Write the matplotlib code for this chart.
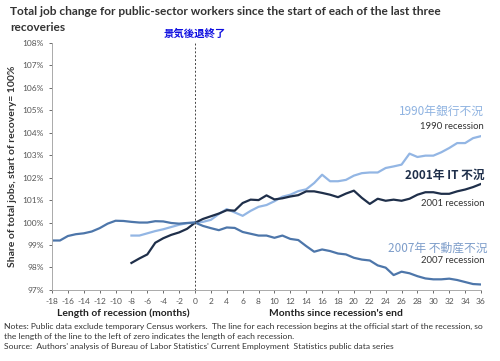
import matplotlib
matplotlib.use("Agg")
import matplotlib.pyplot as plt

plt.rcParams["font.family"] = ["Lato", "DejaVu Sans"]
plt.rcParams["axes.unicode_minus"] = False

# months relative to the end of each recession
months_2007 = list(range(-18, 37))
months_other = list(range(-8, 37))

jobs_2007 = [99.2, 99.2, 99.4, 99.48, 99.52, 99.6, 99.75, 99.95, 100.08, 100.07,
             100.03, 100.0, 100.0, 100.06, 100.05, 99.98, 99.95, 99.98, 100.0,
             99.85, 99.75, 99.66, 99.78, 99.76, 99.58, 99.5, 99.42, 99.42, 99.32,
             99.42, 99.27, 99.22, 98.95, 98.7, 98.8, 98.73, 98.62, 98.58, 98.43,
             98.35, 98.31, 98.09, 97.99, 97.66, 97.81, 97.74, 97.61, 97.51, 97.47,
             97.47, 97.5, 97.44, 97.35, 97.26, 97.24]
jobs_2001 = [98.2, 98.4, 98.58, 99.1, 99.3, 99.45, 99.56, 99.72, 99.99,
             100.16, 100.28, 100.4, 100.55, 100.53, 100.87, 101.02, 101.0, 101.21,
             101.03, 101.08, 101.16, 101.22, 101.39, 101.39, 101.32, 101.24, 101.13,
             101.29, 101.42, 101.1, 100.83, 101.06, 100.97, 101.02, 100.97, 101.06,
             101.24, 101.35, 101.35, 101.28, 101.28, 101.39, 101.47, 101.58, 101.72]
jobs_1990 = [99.42, 99.42, 99.52, 99.62, 99.7, 99.8, 99.9, 99.97, 100.0,
             100.03, 100.12, 100.38, 100.6, 100.45, 100.3, 100.52, 100.7, 100.78,
             100.95, 101.15, 101.24, 101.4, 101.48, 101.76, 102.13, 101.84, 101.84,
             101.9, 102.09, 102.2, 102.23, 102.23, 102.43, 102.5, 102.58, 103.07,
             102.92, 102.98, 102.98, 103.13, 103.32, 103.54, 103.54, 103.76, 103.85]

x_ticks = list(range(-18, 37, 2))
y_ticks = list(range(97, 109))

title_lines = ["Total job change for public-sector workers since the start of each of the last three",
               "recoveries"]
notes = ["Notes: Public data exclude temporary Census workers.  The line for each recession begins at the official start of the recession, so",
         "the length of the line to the left of zero indicates the length of each recession.",
         "Source:  Authors' analysis of Bureau of Labor Statistics' Current Employment  Statistics public data series"]

c1990 = "#93b6e4"
c2001 = "#1f2f4a"
c2007 = "#4d76aa"
cjk = ["Noto Sans CJK JP", "DejaVu Sans"]

fig = plt.figure(figsize=(5, 3.61), dpi=100)
ax = fig.add_axes([0.104, 0.197, 0.858, 0.684])

ax.plot(months_other, jobs_1990, color=c1990, lw=1.6)
ax.plot(months_other, jobs_2001, color=c2001, lw=1.6)
ax.plot(months_2007, jobs_2007, color=c2007, lw=1.6)
ax.axvline(0, color="#444444", lw=0.7, ls=(0, (2, 2)))

ax.set_xlim(-18, 36)
ax.set_ylim(97, 108)
ax.set_xticks(x_ticks)
ax.set_yticks(y_ticks)
ax.set_yticklabels([f"{v}%" for v in y_ticks])
ax.tick_params(labelsize=6, colors="#555555", length=2.5, width=0.6)
for s in ["top", "right"]:
    ax.spines[s].set_visible(False)
for s in ["left", "bottom"]:
    ax.spines[s].set_color("#aaaaaa")
    ax.spines[s].set_linewidth(0.7)

ax.set_ylabel("Share of total jobs, start of recovery= 100%", fontsize=7.5,
              fontweight="bold", color="#333333", labelpad=4)

# series labels
ax.text(36.4, 104.95, "1990年銀行不況", color="#8fb3e1", fontsize=8.5, ha="right",
        va="center", family=cjk)
ax.text(36.4, 104.3, "1990 recession", color="#333333", fontsize=6.8, ha="right", va="center")
ax.text(36.4, 102.1, "2001年 IT 不況", color=c2001, fontsize=8.5, ha="right",
        va="center", family=cjk, fontweight="bold")
ax.text(36.4, 100.85, "2001 recession", color="#333333", fontsize=6.8, ha="right", va="center")
ax.text(36.8, 98.85, "2007年 不動産不況", color="#7d9dca", fontsize=8.5, ha="right",
        va="center", family=cjk)
ax.text(36.4, 98.3, "2007 recession", color="#333333", fontsize=6.8, ha="right", va="center")

fig.text(0.39, 0.906, "景気後退終了", color="#1010e0", fontsize=7.5, ha="center",
         va="center", family=cjk, fontweight="bold")

for i, line in enumerate(title_lines):
    fig.text(0.02, 0.967 - i * 0.043, line, fontsize=8.6, fontweight="bold",
             color="#333333", va="center", ha="left")

fig.text(0.246, 0.131, "Length of recession (months)", fontsize=7.4, fontweight="bold",
         color="#222222", ha="center", va="center")
fig.text(0.672, 0.131, "Months since recession's end", fontsize=7.4, fontweight="bold",
         color="#222222", ha="center", va="center")

for i, line in enumerate(notes):
    fig.text(0.008, 0.097 - i * 0.029, line, fontsize=6.1, color="#333333",
             ha="left", va="center")

fig.savefig("out.png", dpi=100)
